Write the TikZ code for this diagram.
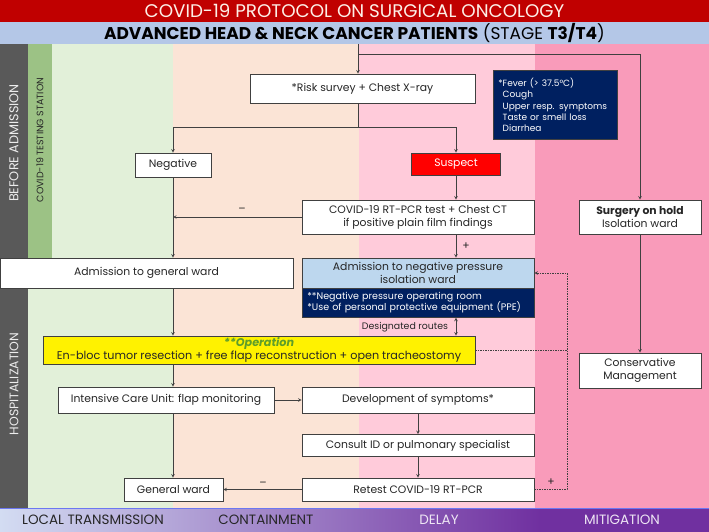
\documentclass[tikz,border=0pt]{standalone}
\usepackage{fontspec}
\setmainfont{Poppins}
\usepackage{xcolor}
\usepackage{tikz}
\usetikzlibrary{positioning,calc}

\definecolor{bannerred}{HTML}{C00000}
\definecolor{bannerblue}{HTML}{B4C7E7}
\definecolor{phasegray}{HTML}{595959}
\definecolor{stationgreen}{HTML}{9CC285}
\definecolor{localgreen}{HTML}{E2F0D9}
\definecolor{containpeach}{HTML}{FBE4D6}
\definecolor{delaypink}{HTML}{FFCBDA}
\definecolor{mitigpink}{HTML}{F99BBA}
\definecolor{bandlight}{HTML}{D3DCF2}
\definecolor{bandpurple}{HTML}{7030A0}
\definecolor{boxline}{HTML}{404040}
\definecolor{boxtext}{HTML}{262626}
\definecolor{symnavy}{HTML}{002060}
\definecolor{isoblue}{HTML}{BDD7EE}
\definecolor{opgreen}{HTML}{5E9E2A}

\begin{document}
\begin{tikzpicture}[x=1pt,y=-1pt,>=stealth]
            \tikzset{
                stepbox/.style={
                    draw=boxline,
                    fill=white,
                    line width=0.7pt,
                    text=boxtext,
                    inner sep=0pt,
                    align=center,
                    font=\fontsize{10.8}{13}\selectfont
                }
            }
            \tikzset{
                navybox/.style={
                    draw=boxline,
                    fill=symnavy,
                    line width=0.7pt,
                    text=white,
                    inner xsep=5pt,
                    inner ysep=0pt,
                    align=left,
                    anchor=north west,
                    font=\fontsize{9}{11.2}\selectfont
                }
            }
            \tikzset{
                flow/.style={
                    boxline,
                    line width=0.6pt
                }
            }
            \tikzset{
                dlink/.style={
                    boxline,
                    line width=0.6pt,
                    dash pattern=on 1.5pt off 1pt
                }
            }
            \tikzset{
                phase/.style={
                    text=boxtext,
                    font=\fontsize{13.5}{15}\selectfont
                }
            }

            \useasboundingbox (0,0) rectangle (709,532);

            \fill[bannerred] (0,0) rectangle (709,22);
            \fill[bannerblue] (0,22) rectangle (709,44);
            \fill[containpeach] (173,44) rectangle (359,508);
            \fill[delaypink] (359,44) rectangle (535,508);
            \fill[mitigpink] (535,44) rectangle (709,508);
            \fill[localgreen] (28,44) rectangle (173,508);
            \fill[stationgreen] (28,44) rectangle (52,258);
            \fill[phasegray] (0,44) rectangle (28,258);
            \fill[phasegray] (0,288) rectangle (28,508);
            \shade[left color=bandlight,right color=bandpurple] (0,508) rectangle (540,532);
            \fill[bandpurple] (540,508) rectangle (709,532);
            \draw[color=bannerblue!60!blue,line width=0.8pt] (0,508) -- (709,508);

            \node[text=containpeach!60!white,font=\fontsize{18.3}{20}\selectfont] (T1) at (354.5,11) {COVID-19 PROTOCOL ON SURGICAL ONCOLOGY};
            \node[text=black,font=\fontsize{17}{18}\selectfont] (T2) at (354.5,33) {\textbf{ADVANCED HEAD \& NECK CANCER PATIENTS} (STAGE \textbf{T3/T4})};

            \node[rotate=90,text=white!85!gray,font=\fontsize{12.8}{14}\selectfont] (BA) at (14,143) {BEFORE ADMISSION};
            \node[rotate=90,text=boxtext,font=\fontsize{9.4}{11}\selectfont] (CS) at (40,140) {COVID-19 TESTING STATION};
            \node[rotate=90,text=white!85!gray,font=\fontsize{12.4}{14}\selectfont] (HO) at (14,384) {HOSPITALIZATION};

            \node[phase] (LT) at (93,520) {LOCAL TRANSMISSION};
            \node[phase] (CT) at (266,520) {CONTAINMENT};
            \node[phase,text=white!88!bandpurple] (DL) at (439,520) {DELAY};
            \node[phase,text=white!88!bandpurple] (MI) at (622,520) {MITIGATION};

            \node[stepbox,minimum width=225pt,minimum height=29pt] (R) at (362.5,88.5) {*Risk survey + Chest X-ray};
            \node[navybox,text width=114pt,minimum height=69pt] (F) at (493,70) {*Fever (> 37.5°C)\\\phantom{*}Cough\\\phantom{*}Upper resp. symptoms\\\phantom{*}Taste or smell loss\\\phantom{*}Diarrhea};
            \node[stepbox,minimum width=76pt,minimum height=24pt] (N) at (173,165) {Negative};
            \node[stepbox,fill=red,text=white,minimum width=89pt,minimum height=22pt] (S) at (456,164) {Suspect};
            \node[stepbox,minimum width=232pt,minimum height=34pt] (C) at (418,217) {COVID-19 RT-PCR test + Chest CT\\if positive plain film findings};
            \node[stepbox,minimum width=122pt,minimum height=34pt] (H) at (640,217) {\textbf{Surgery on hold}\\Isolation ward};
            \node[stepbox,minimum width=293pt,minimum height=30pt] (G) at (146.5,273) {Admission to general ward};
            \node[stepbox,fill=isoblue,minimum width=232pt,minimum height=30pt] (P) at (418,273) {Admission to negative pressure\\isolation ward};
            \node[navybox,text width=222pt,minimum height=29pt,font=\fontsize{9.5}{11.5}\selectfont] (Q) at (302,288) {**Negative pressure operating room\\**Use of personal protective equipment (PPE)};
            \node[stepbox,fill=yellow,minimum width=432pt,minimum height=28pt,font=\fontsize{11.2}{12.5}\selectfont] (O) at (259,350) {\textcolor{opgreen}{\textbf{\textit{**Operation}}}\\En-bloc tumor resection + free flap reconstruction + open tracheostomy};
            \node[stepbox,minimum width=122pt,minimum height=35pt] (M) at (640,370.5) {Conservative\\Management};
            \node[stepbox,minimum width=216pt,minimum height=26pt] (I) at (166,400) {Intensive Care Unit: flap monitoring};
            \node[stepbox,minimum width=232pt,minimum height=26pt] (D) at (418,400) {Development of symptoms*};
            \node[stepbox,minimum width=232pt,minimum height=22pt] (K) at (418,445.5) {Consult ID or pulmonary specialist};
            \node[stepbox,minimum width=232pt,minimum height=23pt] (X) at (418,489.5) {Retest COVID-19 RT-PCR};
            \node[stepbox,minimum width=99pt,minimum height=23pt] (W) at (173.5,489.5) {General ward};

            \coordinate (E) at (358,44);
            \coordinate (J) at (358,54);
            \coordinate (L) at (358,127);
            \coordinate (V) at (567,0);

            \draw[->,flow] (E) -- (E |- R.north);
            \draw[->,flow] (J) -| (H.north);
            \draw[-,flow] (L |- R.south) -- (L);
            \draw[->,flow] (L) -| (N.north);
            \draw[->,flow] (L) -| (S.north);
            \draw[->,flow] (S.south) -- (S.south |- C.north);
            \draw[->,flow] (N.south) -- (N.south |- G.north);
            \draw[->,flow] (C.west) -- (C.west -| N.south);
            \draw[->,flow] (S.south |- C.south) -- (S.south |- P.north);
            \draw[->,flow] (N.south |- G.south) -- (N.south |- O.north);
            \draw[<->,flow] (S.south |- Q.south) -- (S.south |- O.north);
            \draw[->,flow] (N.south |- O.south) -- (N.south |- I.north);
            \draw[->,flow] (I.east) -- (D.west);
            \draw[->,flow] (D.south) -- (K.north);
            \draw[->,flow] (K.south) -- (X.north);
            \draw[->,flow] (N.south |- I.south) -- (N.south |- W.north);
            \draw[->,flow] (X.west) -- (W.east);
            \draw[->,flow] (H.south) -- (M.north);
            \draw[->,dlink] (X.east) -- (X.east -| V) |- (P.east);
            \draw[-,dlink] (O.east) -- (O.east -| V);

            \node[text=boxtext,font=\fontsize{10.8}{12}\selectfont] (m1) at (242,210) {--};
            \node[text=boxtext,font=\fontsize{10.8}{12}\selectfont] (p1) at (466,246) {+};
            \node[text=boxtext,font=\fontsize{9.4}{11}\selectfont] (DR) at (405,327) {Designated routes};
            \node[text=boxtext,font=\fontsize{10.8}{12}\selectfont] (m2) at (263,484) {--};
            \node[text=boxtext,font=\fontsize{10.8}{12}\selectfont] (p2) at (551,482) {+};
        \end{tikzpicture}
\end{document}
